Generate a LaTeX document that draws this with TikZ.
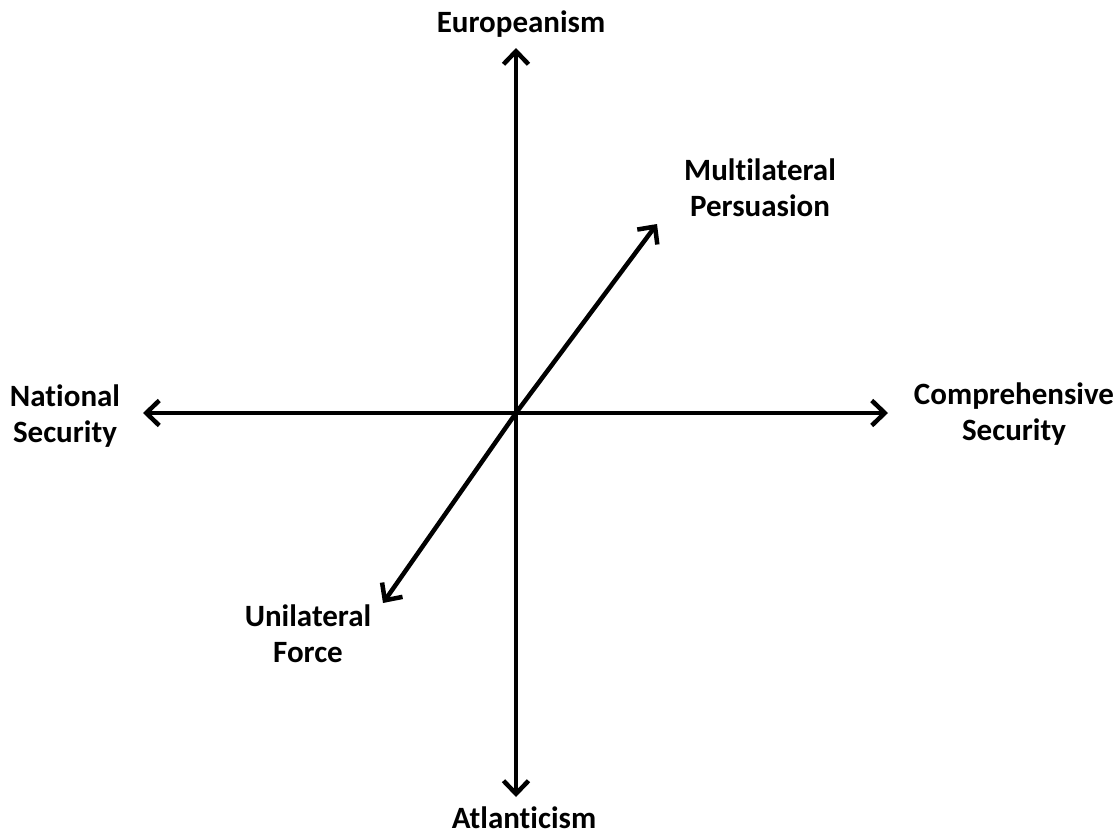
\documentclass[tikz,border=0pt]{standalone}
\usepackage{fontspec}
\setmainfont[Ligatures={NoCommon}]{Carlito}
\usetikzlibrary{arrows.meta}

\begin{document}
\begin{tikzpicture}[x=1pt,y=-1pt,
    axislabel/.style={font=\bfseries\fontsize{31}{36}\selectfont,align=center,inner sep=0pt},
    axisarrow/.style={line width=4.5pt,-{Straight Barb[length=13pt,width=25pt]}}]
    \useasboundingbox (0,0) rectangle (1117,838);

    \coordinate (origin) at (516,413);
    \coordinate (Etip) at (516,48);
    \coordinate (Atip) at (516,797);
    \coordinate (Ntip) at (143,413);
    \coordinate (Ctip) at (888,413);
    \coordinate (Mtip) at (657,224);
    \coordinate (Utip) at (383,603);

    \node[axislabel] at (521,24) (Eur) {Europeanism};
    \node[axislabel] at (524,818) (Atl) {Atlanticism};
    \node[axislabel] at (65,416) (Nat) {National\\Security};
    \node[axislabel] at (1014,414) (Comp) {Comprehensive\\Security};
    \node[axislabel] at (760,188) (Multi) {Multilateral\\Persuasion};
    \node[axislabel] at (308,634) (Uni) {Unilateral\\Force};

    \draw[axisarrow] (origin) to (Etip);
    \draw[axisarrow] (origin) to (Atip);
    \draw[axisarrow] (origin) to (Ntip);
    \draw[axisarrow] (origin) to (Ctip);
    \draw[axisarrow] (origin) to (Mtip);
    \draw[axisarrow] (origin) to (Utip);
  \end{tikzpicture}
\end{document}
